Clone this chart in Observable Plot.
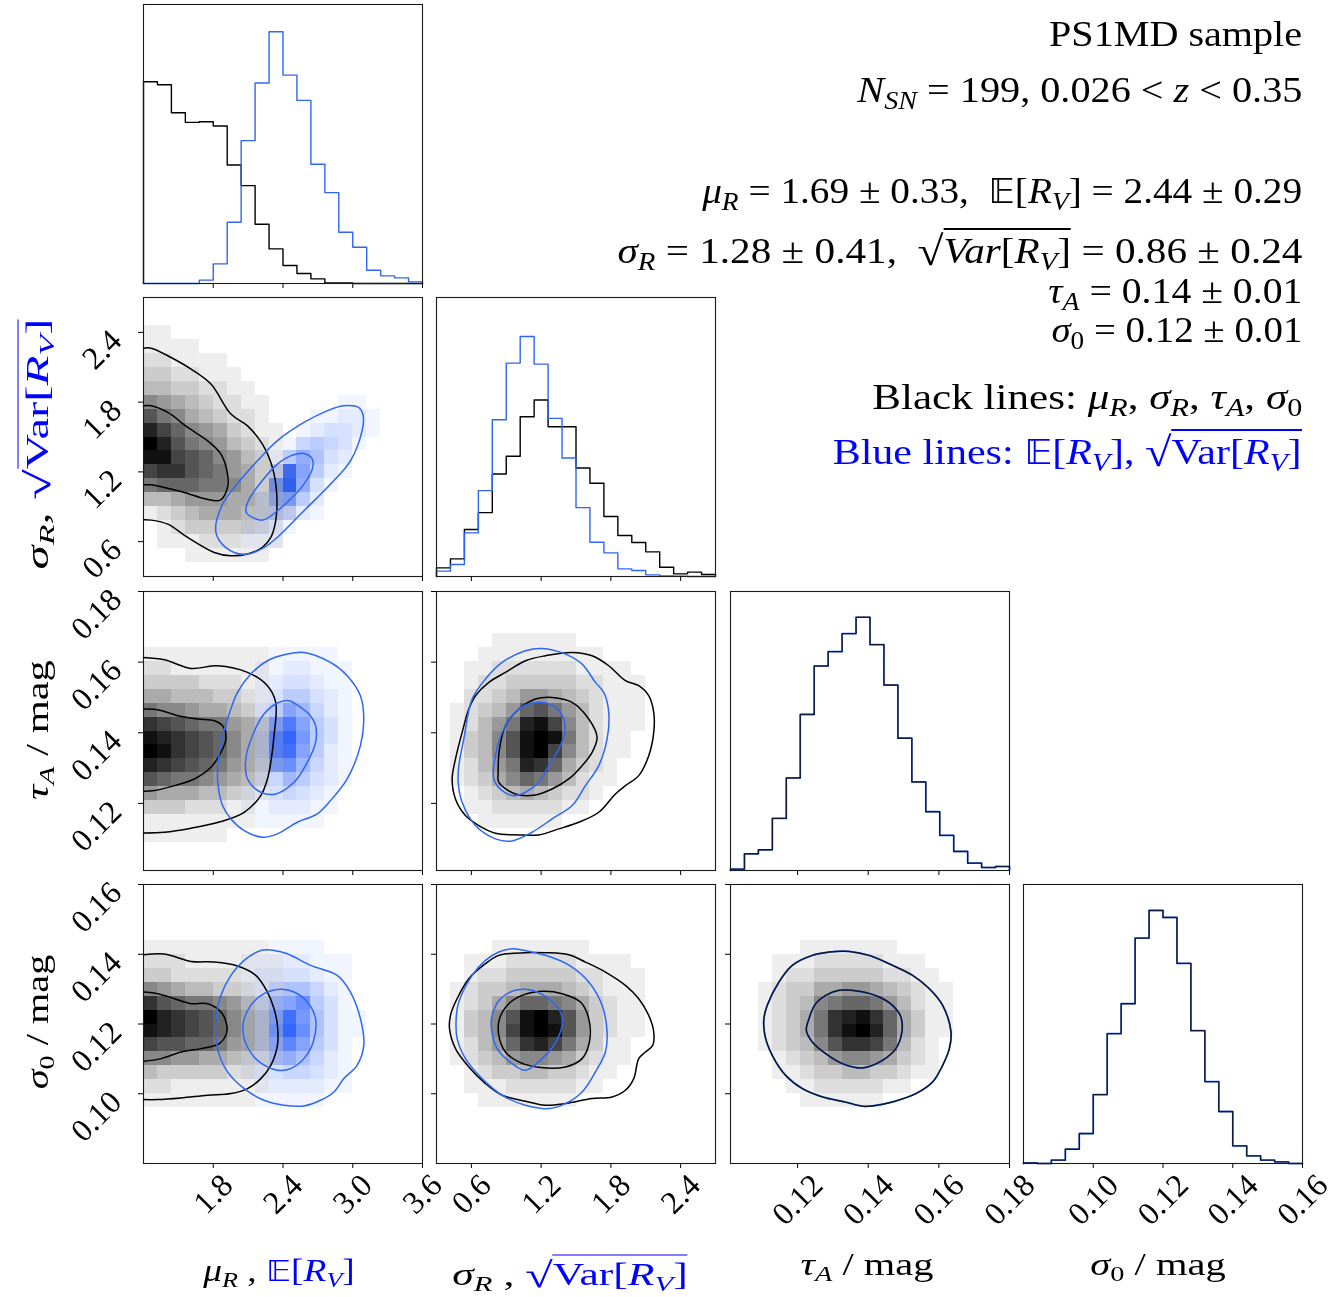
<!DOCTYPE html>
<html>
<head>
<meta charset="utf-8">
<script src="https://cdn.jsdelivr.net/npm/d3@7"></script>
<script src="https://cdn.jsdelivr.net/npm/@observablehq/plot@0.6"></script>
<style>
html,body{margin:0;padding:0;background:#fff;}
#fig{position:relative;width:1343px;height:1297px;background:#fff;overflow:hidden;font-family:"Liberation Serif","DejaVu Serif",serif;}
.t{position:absolute;white-space:nowrap;line-height:1;color:#000;}
.sub{font-size:0.7em;position:relative;top:0.28em;line-height:0;}
.rad{line-height:0;font-size:1.15em;position:relative;top:0.06em;}
.ov{border-top:0.06em solid currentColor;padding-top:0.04em;}
.bb{font-family:"DejaVu Sans",sans-serif;font-style:normal;font-size:0.92em;}
.mk{display:inline-block;width:0;height:0;}
</style>
</head>
<body>
<div id="fig"></div>
<script>
// ================= DATA =================
const muDomain = [1.2, 3.6];
const sigRDomain = [0.3, 2.7];
const tauDomain = [0.101, 0.18];
const sig0Domain = [0.08, 0.16];

const muTicks = [1.8, 2.4, 3.0, 3.6];
const sigRTicks = [0.6, 1.2, 1.8, 2.4];
const tauTicks = [0.12, 0.14, 0.16, 0.18];
const sig0Ticks = [0.10, 0.12, 0.14, 0.16];

// 1D histograms (20 bins each, relative counts)
const histMuBlack = [606,597,513,484,486,473,356,294,178,104,54,30,14,2,2,0,0,0,0,0];
const histMuBlue  = [0,0,0,0,10,59,184,429,602,756,626,550,358,273,154,109,40,23,17,5];
const histSigRBlack = [26,53,141,192,308,361,480,530,450,450,326,280,180,123,102,74,28,8,13,6];
const histSigRBlue  = [16,36,131,258,471,641,721,638,475,356,207,103,71,23,18,5,2,1,0,0];
const histTau  = [4,50,62,156,277,467,612,655,709,758,676,555,396,265,176,105,57,22,9,12];
const histSig0 = [2,0,10,43,90,207,390,480,677,760,739,601,399,246,156,53,23,10,5,0];
const histTop = [838, 838, 835, 838];

// 2D density grids: 20x20, rows from top, hex level 0..f
const gridMuSigRBlack = ["","","11","1111","2211110","3322111","44332211","765432211","a87543221","db97653211","fda8764321","eeba976431","bcca9865321","89998875321","44566655321","12345554321","0123333321","0111222111","0001111110",""];
const gridMuSigRBlue = ["","","","","","","","0000000000000011","00000000000011221","00000000000123321","0000000000145431","000000000158632","0000000003e9521","0000000009f831","0000000027952","0000000024421","00000001221","0000000111","",""];
const gridMuTauBlack = ["","","","","111111111","221111111","333322211","554443321","877655431","cba9886531","edcba97531","fecba97531","dcba986531","a98876542","655544321","33322211","11111111","111111","",""];
const gridMuTauBlue = ["","","","","00000000011111","000000001122111","000000001233211","000000001355321","000000002597421","0000000029d9531","000000003cfa531","000000003ce9521","0000000029b7421","000000002475321","00000001134321","00000001122211","0000000011111","","",""];
const gridMuSig0Black = ["","","","","111111111","2221111111","3322222111","7654433211","ca98876421","fdcba97531","edcba97531","baa9986531","7766554321","433333221","221111111","11111111","","","",""];
const gridMuSig0Blue = ["","","","","0000000001111","000000011122111","000000012233211","000000012466421","00000001379b531","0000000139ea6311","000000013afb6311","0000000138c9531","000000012686421","000000012344321","000000001222211","00000000111110","","","",""];
const gridSigRTauBlack = ["","","","0000111111","000111111111","00112222221111","001223333322111","002234665432111","0123469a8642111","012468deb742111","01347aefe84211","01347aefb74211","012468dc95321","0123579864211","001234543221","00112222211","000111111","","",""];
const gridSigRSig0Black = ["","","","","00001111111","00111222221111","001223333322111","012334555432111","012357998753211","01347aefda63211","01347befea63211","012469cdb85311","01234677653211","0012334433211","001112222211","0001111111","","","",""];
const gridTauSig0Black = ["","","","","000001111111","00011122222111","000122333332211","0012335566543211","0012347899864211","0012358cdec95311","0012358cefd95311","0012347accb8421","000123467765321","000112334433211","0000112222211","00000111111","","","",""];

// Contours [x, y] in data units
const contMuSigRBlackOuter = [[1.20,2.264],[1.266,2.264],[1.437,2.184],[1.609,2.084],[1.78,1.955],[1.952,1.697],[2.095,1.596],[2.223,1.439],[2.309,1.238],[2.346,1.008],[2.337,0.779],[2.295,0.636],[2.223,0.55],[2.095,0.493],[1.952,0.478],[1.809,0.507],[1.58,0.636],[1.409,0.75],[1.266,0.785],[1.20,0.788]];
const contMuSigRBlackInner = [[1.20,1.768],[1.266,1.768],[1.409,1.711],[1.58,1.582],[1.752,1.467],[1.866,1.353],[1.923,1.181],[1.923,1.066],[1.86,0.957],[1.737,0.966],[1.552,1.023],[1.38,1.066],[1.266,1.089],[1.20,1.089]];
const contMuSigRBlueOuter = [[1.82,0.71],[1.852,0.61],[1.98,0.507],[2.095,0.493],[2.24,0.55],[2.35,0.636],[2.58,0.865],[2.81,1.095],[2.98,1.295],[3.08,1.553],[3.09,1.682],[3.05,1.754],[2.92,1.768],[2.78,1.725],[2.58,1.625],[2.35,1.467],[2.18,1.295],[1.98,1.066],[1.88,0.922]];
const contMuSigRBlueInner = [[2.095,0.836],[2.223,0.785],[2.352,0.865],[2.466,0.966],[2.58,1.095],[2.652,1.224],[2.652,1.31],[2.58,1.358],[2.466,1.338],[2.352,1.267],[2.209,1.109],[2.109,0.965],[2.08,0.865]];

const contMuTauBlackOuter = [[1.2,0.16134],[1.38,0.16068],[1.609,0.15823],[1.837,0.15898],[2.095,0.1571],[2.266,0.15332],[2.337,0.14861],[2.323,0.13918],[2.295,0.13164],[2.266,0.12692],[2.209,0.1222],[2.066,0.11749],[1.866,0.11485],[1.609,0.11296],[1.38,0.11183],[1.2,0.11164]];
const contMuTauBlackInner = [[1.2,0.14672],[1.323,0.14654],[1.495,0.14484],[1.666,0.1439],[1.809,0.14342],[1.88,0.14201],[1.909,0.13824],[1.866,0.13447],[1.78,0.13022],[1.637,0.12692],[1.466,0.12503],[1.295,0.12362],[1.2,0.12343]];
const contMuTauBlueOuter = [[2.223,0.11042],[2.352,0.11137],[2.523,0.11466],[2.695,0.11702],[2.809,0.12079],[2.952,0.12692],[3.066,0.13635],[3.095,0.14389],[3.066,0.15049],[2.952,0.15615],[2.809,0.15992],[2.58,0.16275],[2.437,0.16228],[2.266,0.1604],[2.123,0.15662],[2.009,0.15144],[1.923,0.14389],[1.852,0.13446],[1.837,0.12692],[1.88,0.11938],[1.952,0.11561],[2.066,0.11231]];
const contMuTauBlueInner = [[2.209,0.12315],[2.337,0.12268],[2.495,0.12598],[2.609,0.13164],[2.68,0.13729],[2.68,0.14201],[2.623,0.14531],[2.552,0.14719],[2.452,0.14908],[2.352,0.14842],[2.237,0.14531],[2.137,0.13918],[2.08,0.13258],[2.095,0.12692]];

const contMuSig0BlackOuter = [[1.2,0.13986],[1.38,0.14005],[1.609,0.13795],[1.809,0.13776],[2.009,0.13662],[2.166,0.13394],[2.266,0.12917],[2.323,0.12439],[2.352,0.11962],[2.352,0.11389],[2.295,0.10816],[2.209,0.10434],[2.095,0.10148],[1.952,0.10005],[1.752,0.09957],[1.523,0.0988],[1.323,0.09833],[1.2,0.09833]];
const contMuSig0BlackInner = [[1.2,0.12917],[1.323,0.12869],[1.466,0.12726],[1.609,0.12583],[1.752,0.12583],[1.866,0.12344],[1.917,0.11962],[1.909,0.11676],[1.852,0.11437],[1.695,0.11294],[1.523,0.11198],[1.352,0.11007],[1.2,0.10931]];
const contMuSig0BlueOuter = [[2.209,0.1411],[2.323,0.1411],[2.437,0.14015],[2.637,0.13681],[2.866,0.13394],[2.98,0.12917],[3.066,0.12153],[3.095,0.11389],[3.037,0.10816],[2.923,0.10434],[2.838,0.10052],[2.723,0.09813],[2.58,0.09651],[2.409,0.0967],[2.237,0.09813],[2.066,0.10148],[1.923,0.10625],[1.837,0.11294],[1.823,0.12153],[1.866,0.12821],[1.952,0.13394],[2.066,0.13824]];
const contMuSig0BlueInner = [[2.266,0.10769],[2.352,0.10673],[2.466,0.10721],[2.58,0.11007],[2.66,0.11485],[2.68,0.12153],[2.609,0.1263],[2.495,0.12917],[2.38,0.12993],[2.237,0.12869],[2.123,0.12535],[2.06,0.12058],[2.066,0.1158],[2.152,0.11055]];

const contSigRTauBlackOuter = [[0.4347,0.12692],[0.4634,0.13258],[0.5207,0.14012],[0.578,0.14672],[0.6353,0.15049],[0.75,0.15427],[0.8933,0.1571],[1.0652,0.1604],[1.2372,0.16181],[1.4665,0.16275],[1.6385,0.16181],[1.7818,0.15898],[1.9251,0.15474],[2.0397,0.15332],[2.1257,0.15049],[2.1687,0.14578],[2.1687,0.14012],[2.1257,0.13352],[2.0397,0.12786],[1.9251,0.12503],[1.839,0.12268],[1.696,0.11749],[1.524,0.11466],[1.352,0.11278],[1.18,0.11108],[1.008,0.11108],[0.807,0.11155],[0.664,0.11372],[0.549,0.11655],[0.463,0.12126]];
const contSigRTauBlackInner = [[0.836,0.12598],[0.979,0.12268],[1.1512,0.12239],[1.2945,0.12409],[1.4378,0.12692],[1.5525,0.13069],[1.6385,0.13446],[1.6814,0.13871],[1.6098,0.14389],[1.4665,0.14861],[1.2945,0.15002],[1.1512,0.14955],[1.008,0.14672],[0.8933,0.14201],[0.8417,0.13541],[0.8302,0.12881]];
const contSigRTauBlueOuter = [[0.492,0.13069],[0.535,0.13824],[0.6067,0.14955],[0.7213,0.15521],[0.8646,0.15992],[1.0652,0.16322],[1.2086,0.16388],[1.4092,0.16228],[1.5525,0.15945],[1.6671,0.15427],[1.7388,0.15144],[1.7818,0.14578],[1.7674,0.13824],[1.6958,0.13069],[1.5812,0.12503],[1.4665,0.11938],[1.2945,0.11561],[1.1226,0.11184],[0.9506,0.10938],[0.8073,0.10995],[0.6353,0.11372],[0.5207,0.12032],[0.4863,0.12598]];
const contSigRTauBlueInner = [[0.793,0.12692],[0.8646,0.12362],[0.9649,0.1222],[1.0652,0.12315],[1.1799,0.12598],[1.2659,0.13069],[1.3519,0.13541],[1.4034,0.14012],[1.3948,0.14389],[1.3232,0.14719],[1.1942,0.14861],[1.0652,0.14785],[0.9506,0.14484],[0.8646,0.14012],[0.8073,0.13352]];

const contSigRSig0BlackOuter = [[0.4204,0.12248],[0.4634,0.12631],[0.578,0.13299],[0.7213,0.13729],[0.836,0.13967],[1.0652,0.14044],[1.2372,0.14044],[1.4378,0.13986],[1.5812,0.13776],[1.7531,0.1349],[1.9251,0.13108],[2.0397,0.12726],[2.1257,0.12248],[2.1687,0.11771],[2.1601,0.11389],[2.0971,0.11198],[2.0397,0.11007],[1.9967,0.10434],[1.9251,0.101],[1.8104,0.09909],[1.6385,0.09861],[1.4092,0.09718],[1.2372,0.0967],[1.0652,0.09785],[0.8646,0.09957],[0.7213,0.10291],[0.578,0.10769],[0.4634,0.11294],[0.4118,0.11866]];
const contSigRSig0BlackInner = [[0.836,0.11676],[0.8933,0.11198],[1.008,0.10912],[1.1942,0.1075],[1.4092,0.10769],[1.5525,0.11007],[1.6155,0.11485],[1.6098,0.12153],[1.5382,0.1263],[1.3805,0.12869],[1.2086,0.12936],[1.0366,0.12821],[0.9219,0.12583],[0.8417,0.12153]];
const contSigRSig0BlueOuter = [[0.4691,0.12153],[0.492,0.1263],[0.6067,0.13394],[0.7213,0.13824],[0.836,0.14063],[0.9506,0.14158],[1.1226,0.14063],[1.3232,0.13872],[1.4665,0.13633],[1.6098,0.13203],[1.7245,0.12535],[1.7674,0.11771],[1.753,0.11198],[1.6671,0.10625],[1.5525,0.10052],[1.4092,0.09718],[1.2659,0.09575],[1.0652,0.0967],[0.8646,0.09957],[0.6926,0.10434],[0.5493,0.11007],[0.4777,0.1158]];
const contSigRSig0BlueInner = [[0.7729,0.11866],[0.8216,0.11294],[0.9506,0.10864],[1.0652,0.10673],[1.2086,0.11007],[1.3089,0.11389],[1.3805,0.11962],[1.3662,0.12344],[1.2802,0.12678],[1.1226,0.12965],[0.9793,0.12965],[0.8503,0.12726],[0.7786,0.12248]];

const contTauSig0Outer = [[0.11045,0.12153],[0.1114,0.12535],[0.11471,0.13203],[0.11849,0.13681],[0.12417,0.13967],[0.1289,0.14063],[0.13458,0.14082],[0.14026,0.13967],[0.14688,0.13681],[0.15256,0.13394],[0.15729,0.13013],[0.16107,0.12535],[0.16344,0.11771],[0.16297,0.11294],[0.16107,0.10816],[0.15823,0.10339],[0.1535,0.10005],[0.14688,0.09766],[0.1412,0.09651],[0.13836,0.09642],[0.13363,0.0976],[0.12701,0.0991],[0.12133,0.10148],[0.1166,0.10529],[0.11282,0.11102],[0.11074,0.11676]];
const contTauSig0Inner = [[0.12247,0.11818],[0.12322,0.12153],[0.12512,0.12583],[0.12796,0.12821],[0.13174,0.12965],[0.13742,0.12936],[0.1431,0.12774],[0.14688,0.12535],[0.14925,0.12201],[0.14953,0.11771],[0.14782,0.11294],[0.14404,0.10959],[0.13836,0.1074],[0.13269,0.10864],[0.12796,0.1115],[0.12417,0.11485]];

// ================= LAYOUT / STYLE =================
const fig = document.getElementById("fig");
const FRAME = {col: [142.5, 436, 729.5, 1022.5], row: [4, 297, 590.5, 883.5], size: 279};
const M = 90;
const FS_TICK = 32;
const FONT = "Liberation Serif";
const BLUE_FILL = "#3366ff";
const BLUE_LINE = "#2f66f5";
const TEXT_BLUE = "#0000ff";

const domains = [muDomain, sigRDomain, tauDomain, sig0Domain];
const tickSets = [muTicks, sigRTicks, tauTicks, sig0Ticks];
const fmts = [d => d.toFixed(1), d => d.toFixed(1), d => d.toFixed(2), d => d.toFixed(2)];

function labelLen(s) { let w = 0; for (const c of s) w += (c === "." ? 0.25 : 0.5); return w * FS_TICK; }
const LH = 0.66 * FS_TICK;

function cellsFrom(grid, xd, yd) {
  const n = 20, out = [];
  const bw = (xd[1] - xd[0]) / n, bh = (yd[1] - yd[0]) / n;
  grid.forEach((row, j) => {
    row.padEnd(n, "0").slice(0, n).split("").forEach((ch, i) => {
      const v = parseInt(ch, 16);
      if (v > 0) out.push({x1: xd[0] + i * bw, x2: xd[0] + (i + 1) * bw, y2: yd[1] - j * bh, y1: yd[1] - (j + 1) * bh, v});
    });
  });
  return out;
}
function stepPts(vals, xd) {
  const n = vals.length, bw = (xd[1] - xd[0]) / n;
  const pts = [[xd[0], 0]];
  vals.forEach((v, i) => { pts.push([xd[0] + i * bw, v], [xd[0] + (i + 1) * bw, v]); });
  pts.push([xd[1], 0]);
  return pts;
}
const grayScale = d3.interpolateRgb("#ffffff", "#000000");
const blueScale = d3.interpolateRgb("#ffffff", BLUE_FILL);
function cellMark(grid, xd, yd, blue) {
  return Plot.rect(cellsFrom(grid, xd, yd), {
    x1: "x1", x2: "x2", y1: "y1", y2: "y2",
    fill: d => (blue ? blueScale : grayScale)(d.v / 15),
    shapeRendering: "crispEdges",
    mixBlendMode: blue ? "multiply" : "normal"
  });
}
function contour(pts, color, closed, opts = {}) {
  return Plot.line(pts, {x: d => d[0], y: d => d[1], stroke: color, strokeWidth: 1.5,
    curve: closed ? "catmull-rom-closed" : "catmull-rom", ...opts});
}
function histLine(vals, xd, color, opts = {}) {
  return Plot.line(stepPts(vals, xd), {x: d => d[0], y: d => d[1], stroke: color, strokeWidth: 1.4, ...opts});
}

function panel(ci, ri, marks) {
  const xd = domains[ci];
  const isHist = ci === ri;
  const yd = isHist ? [0, histTop[ci]] : domains[ri];
  const m = [...marks, Plot.frame({stroke: "#1a1a1a", strokeWidth: 1.1})];
  m.push(Plot.axisX({ticks: tickSets[ci], tickSize: 5, tickFormat: () => "", label: null}));
  if (!isHist) m.push(Plot.axisY({ticks: tickSets[ri], tickSize: 5, tickFormat: () => "", label: null}));
  if (ri === 3) {
    tickSets[ci].forEach(t => {
      const s = fmts[ci](t), L = labelLen(s);
      m.push(Plot.text([t], {x: d => d, text: () => s, frameAnchor: "bottom", dy: 9 + 0.354 * (L + LH),
        rotate: -45, textAnchor: "middle", lineAnchor: "middle", fontSize: FS_TICK, fontFamily: FONT, fill: "#000"}));
    });
  }
  if (ci === 0 && ri > 0) {
    tickSets[ri].forEach(t => {
      const s = fmts[ri](t), L = labelLen(s);
      m.push(Plot.text([t], {y: d => d, text: () => s, frameAnchor: "left", dx: -20 - 0.354 * (L + LH), dy: 3 + 0.354 * L,
        rotate: -45, textAnchor: "middle", lineAnchor: "middle", fontSize: FS_TICK, fontFamily: FONT, fill: "#000"}));
    });
  }
  const svg = Plot.plot({
    width: FRAME.size + 2 * M, height: FRAME.size + 2 * M, margin: M,
    x: {domain: xd}, y: isHist ? {domain: yd, axis: null} : {domain: yd},
    marks: m
  });
  svg.style.position = "absolute";
  svg.style.left = (FRAME.col[ci] - M) + "px";
  svg.style.top = (FRAME.row[ri] - M) + "px";
  svg.style.background = "transparent";
  svg.style.overflow = "visible";
  svg.style.maxWidth = "none";
  fig.appendChild(svg);
}

// ---- Diagonal histograms ----
panel(0, 0, [histLine(histMuBlack, muDomain, "#000"), histLine(histMuBlue, muDomain, BLUE_LINE)]);
panel(1, 1, [histLine(histSigRBlack, sigRDomain, "#000"), histLine(histSigRBlue, sigRDomain, BLUE_LINE)]);
panel(2, 2, [histLine(histTau, tauDomain, BLUE_LINE, {strokeWidth: 1.7}), histLine(histTau, tauDomain, "#000", {strokeOpacity: 0.75})]);
panel(3, 3, [histLine(histSig0, sig0Domain, BLUE_LINE, {strokeWidth: 1.7}), histLine(histSig0, sig0Domain, "#000", {strokeOpacity: 0.75})]);

// ---- Column 0 (mu_R / E[R_V]) ----
panel(0, 1, [
  cellMark(gridMuSigRBlack, muDomain, sigRDomain, false),
  contour(contMuSigRBlackOuter, "#000", false), contour(contMuSigRBlackInner, "#000", false),
  cellMark(gridMuSigRBlue, muDomain, sigRDomain, true),
  contour(contMuSigRBlueOuter, BLUE_LINE, true), contour(contMuSigRBlueInner, BLUE_LINE, true)
]);
panel(0, 2, [
  cellMark(gridMuTauBlack, muDomain, tauDomain, false),
  contour(contMuTauBlackOuter, "#000", false), contour(contMuTauBlackInner, "#000", false),
  cellMark(gridMuTauBlue, muDomain, tauDomain, true),
  contour(contMuTauBlueOuter, BLUE_LINE, true), contour(contMuTauBlueInner, BLUE_LINE, true)
]);
panel(0, 3, [
  cellMark(gridMuSig0Black, muDomain, sig0Domain, false),
  contour(contMuSig0BlackOuter, "#000", false), contour(contMuSig0BlackInner, "#000", false),
  cellMark(gridMuSig0Blue, muDomain, sig0Domain, true),
  contour(contMuSig0BlueOuter, BLUE_LINE, true), contour(contMuSig0BlueInner, BLUE_LINE, true)
]);
// ---- Column 1 ----
panel(1, 2, [
  cellMark(gridSigRTauBlack, sigRDomain, tauDomain, false),
  contour(contSigRTauBlackOuter, "#000", true), contour(contSigRTauBlackInner, "#000", true),
  contour(contSigRTauBlueOuter, BLUE_LINE, true), contour(contSigRTauBlueInner, BLUE_LINE, true)
]);
panel(1, 3, [
  cellMark(gridSigRSig0Black, sigRDomain, sig0Domain, false),
  contour(contSigRSig0BlackOuter, "#000", true), contour(contSigRSig0BlackInner, "#000", true),
  contour(contSigRSig0BlueOuter, BLUE_LINE, true), contour(contSigRSig0BlueInner, BLUE_LINE, true)
]);
// ---- Column 2 ----
panel(2, 3, [
  cellMark(gridTauSig0Black, tauDomain, sig0Domain, false),
  contour(contTauSig0Outer, BLUE_LINE, true, {strokeWidth: 1.7}), contour(contTauSig0Inner, BLUE_LINE, true, {strokeWidth: 1.7}),
  contour(contTauSig0Outer, "#000", true, {strokeOpacity: 0.8}), contour(contTauSig0Inner, "#000", true, {strokeOpacity: 0.8})
]);

// ================= TEXT =================
const I = s => `<i>${s}</i>`;
const SUB = s => `<span class="sub">${s}</span>`;
const muR = `${I("μ")}${SUB(I("R"))}`;
const sigR = `${I("σ")}${SUB(I("R"))}`;
const tauA = `${I("τ")}${SUB(I("A"))}`;
const sig0 = `${I("σ")}${SUB("0")}`;
const RV = `${I("R")}${SUB(I("V"))}`;
const EE = `<span class="bb">𝔼</span>`;
const SQRT = s => `<span class="rad">√</span><span class="ov">${s}</span>`;
const BL = s => `<span style="color:${TEXT_BLUE}">${s}</span>`;

const RIGHT = 41;
function placeRight(html, base, targetW, fs, color) {
  const d = document.createElement("div");
  d.className = "t";
  d.style.fontSize = fs + "px";
  d.style.right = RIGHT + "px";
  d.style.top = "0px";
  if (color) d.style.color = color;
  d.innerHTML = html + '<span class="mk"></span>';
  fig.appendChild(d);
  const r = d.getBoundingClientRect();
  const mk = d.querySelector(".mk").getBoundingClientRect();
  d.style.top = (base - (mk.top - r.top)) + "px";
  d.style.transformOrigin = "100% 50%";
  d.style.transform = `scaleX(${targetW / r.width})`;
}
function placeCenter(html, cx, cy, targetW, fs, rot) {
  const d = document.createElement("div");
  d.className = "t";
  d.style.fontSize = fs + "px";
  d.style.left = cx + "px";
  d.style.top = cy + "px";
  d.innerHTML = html;
  fig.appendChild(d);
  const w = d.offsetWidth;
  d.style.transform = `translate(-50%,-50%) rotate(${rot}deg) scaleX(${targetW / w})`;
}

const FS_INFO = 36;
placeRight("PS1MD sample", 46, 253, FS_INFO);
placeRight(`${I("N")}${SUB(I("SN"))} = 199, 0.026 &lt; ${I("z")} &lt; 0.35`, 102, 445, FS_INFO);
placeRight(`${muR} = 1.69 ± 0.33,&nbsp; ${EE}[${RV}] = 2.44 ± 0.29`, 203, 600, FS_INFO);
placeRight(`${sigR} = 1.28 ± 0.41,&nbsp; ${SQRT(`${I("Var")}[${RV}]`)} = 0.86 ± 0.24`, 263, 685, FS_INFO);
placeRight(`${tauA} = 0.14 ± 0.01`, 303, 254, FS_INFO);
placeRight(`${sig0} = 0.12 ± 0.01`, 342, 251, FS_INFO);
placeRight(`Black lines: ${muR}, ${sigR}, ${tauA}, ${sig0}`, 409, 430, FS_INFO);
placeRight(`Blue lines: ${EE}[${RV}], ${SQRT(`Var[${RV}]`)}`, 464, 469, FS_INFO, TEXT_BLUE);

const FS_AX = 31;
placeCenter(`${muR} , ${BL(`${EE}[${RV}]`)}`, 279, 1271, 152, FS_AX, 0);
placeCenter(`${sigR} , ${BL(SQRT(`Var[${RV}]`))}`, 570, 1274, 235, FS_AX, 0);
placeCenter(`${tauA} / mag`, 867, 1264, 133, FS_AX, 0);
placeCenter(`${sig0} / mag`, 1158, 1264, 136, FS_AX, 0);
placeCenter(`${sigR}, ${BL(SQRT(`Var[${RV}]`))}`, 37, 444, 250, FS_AX, -90);
placeCenter(`${tauA} / mag`, 37, 730, 140, FS_AX, -90);
placeCenter(`${sig0} / mag`, 37, 1022, 135, FS_AX, -90);
</script>
</body>
</html>
